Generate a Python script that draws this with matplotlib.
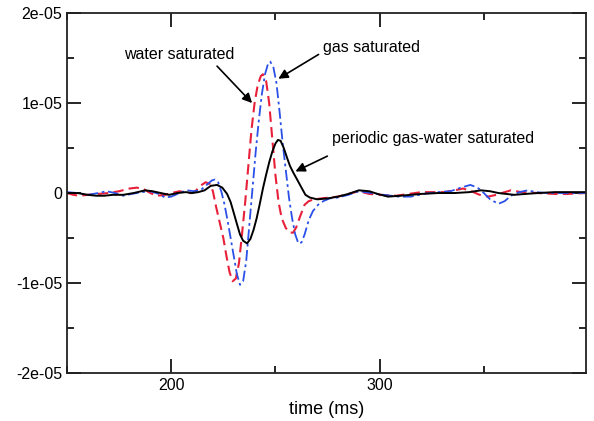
import numpy as np
import matplotlib
matplotlib.use("Agg")
import matplotlib.pyplot as plt
from matplotlib.ticker import FixedLocator, FixedFormatter, MultipleLocator

plt.rcParams['font.family'] = ['Liberation Sans', 'DejaVu Sans']

# water saturated (red dashed), values in 1e-6
t_water = [150, 153, 156, 160, 165, 170, 175, 180, 183.5, 187, 190, 193, 197, 200, 204, 208, 210,
           212, 214, 216.5, 218.5, 220, 221.5, 223, 225, 226.5, 228, 229.5, 231, 232.5, 234, 235.5,
           237, 238.5, 240, 241.5, 243, 244, 245.5, 247, 248.5, 250, 251.5, 253, 255, 257, 258.5,
           260, 262, 264, 266, 268.5, 272, 276, 280, 285, 290, 295, 300, 308, 314, 320, 331, 336,
           340, 344, 348, 352, 356, 360, 363, 368, 376, 384, 390, 399]
water = [0.0, -0.2, -0.3, -0.2, -0.1, 0.0, 0.2, 0.5, 0.6, 0.4, 0.0, -0.3, -0.2, 0.0, 0.2, 0.0, 0.0,
         0.3, 0.8, 1.2, 1.0, 0.2, -1.5, -3.0, -5.0, -7.0, -8.8, -9.8, -9.5, -7.8, -4.5, -1.0,
         3.0, 7.0, 10.0, 12.0, 13.0, 13.2, 12.5, 10.0, 6.0, 2.0, -1.0, -2.8, -3.9, -4.4, -4.4,
         -3.8, -2.5, -1.3, -0.9, -0.7, -0.6, -0.5, -0.4, -0.1, 0.2, -0.1, -0.2, -0.3, -0.1, 0.1, 0.1, 0.3,
         0.5, 0.2, -0.2, -0.4, -0.2, 0.1, 0.3, 0.1, 0.0, -0.1, -0.1, 0.0]

# gas saturated (blue dash-dot)
t_gas = [150, 155, 160, 165, 169, 173, 177, 181, 186, 190, 194, 197, 200, 204, 207.5, 211, 214,
         217, 219.5, 221, 222.5, 224, 225.5, 227, 228.5, 230, 231.5, 233, 234.5, 236, 237.5, 239,
         240.5, 242, 243.5, 245, 246.5, 247.5, 249, 250.5, 252, 253.5, 255, 256.5, 258, 259.5, 261,
         262.5, 264, 266, 268, 270.5, 273, 276, 280, 285, 290, 296, 302, 309, 315, 321, 328, 334,
         339, 343.5, 347, 350, 353, 357, 360, 363, 367, 371, 375, 380, 390, 399]
gas = [0.1, 0.0, -0.2, 0.0, 0.2, 0.0, -0.3, -0.1, 0.1, 0.2, -0.1, -0.5, -0.4, 0.0, 0.3, 0.2, 0.3,
       0.9, 1.4, 1.5, 1.2, 0.2, -1.2, -3.0, -5.0, -7.0, -9.0, -10.2, -9.8, -7.5, -3.5, 0.5,
       4.5, 8.0, 11.0, 13.2, 14.4, 14.6, 14.0, 12.2, 9.0, 5.5, 2.5, -0.5, -2.8, -4.6, -5.6,
       -5.5, -4.6, -3.0, -2.0, -1.3, -0.9, -0.6, -0.5, -0.2, 0.2, 0.0, -0.2, -0.4, -0.4, -0.1, 0.1, 0.2,
       0.6, 0.9, 0.6, 0.0, -0.7, -1.2, -0.9, -0.3, 0.1, 0.3, 0.1, 0.0, 0.0, 0.0]

# periodic gas-water saturated (black solid)
t_periodic = [150, 155, 160, 164, 168, 172, 177, 182, 187.5, 191, 195, 199, 203, 207, 210, 213, 216,
              219, 222, 224.5, 226.8, 228.5, 230, 231.6, 233, 234.5, 236.4, 238, 239.5, 241, 242.5,
              244, 245.5, 247, 248.5, 250, 251.2, 252.5, 254, 255.6, 257, 258.5, 260.4, 262.5, 264.4,
              266.5, 270, 275, 280, 285, 290, 295, 299, 304, 310, 320, 328, 336, 343, 348.6, 353, 357,
              364.5, 370, 376, 384, 392, 399]
periodic = [0.0, 0.0, -0.2, -0.3, -0.3, -0.2, -0.2, 0.0, 0.3, 0.2, 0.0, -0.2, 0.0, 0.1, 0.0, 0.1, 0.3,
            0.8, 0.9, 0.6, -0.1, -1.0, -2.2, -3.5, -4.6, -5.3, -5.6, -5.1, -4.1, -2.8, -1.2,
            0.5, 2.0, 3.4, 4.6, 5.5, 5.9, 5.8, 5.0, 3.9, 3.0, 2.3, 1.5, 0.6, -0.2,
            -0.5, -0.7, -0.6, -0.4, -0.1, 0.3, 0.2, -0.1, -0.4, -0.3, -0.1, 0.0, 0.0, 0.1, 0.3, 0.2, 0.0,
            -0.2, -0.1, 0.0, 0.1, 0.1, 0.1]

ytick_vals = [-2e-05, -1e-05, 0, 1e-05, 2e-05]
ytick_labels = ['-2e-05', '-1e-05', '0', '1e-05', '2e-05']
xtick_vals = [200, 300]

fig = plt.figure(figsize=(5.94, 4.21), dpi=100)
ax = fig.add_axes([0.1128, 0.114, 0.8737, 0.855])

ax.plot(t_water, np.array(water) * 1e-6, color='#e8203a', ls=(0, (5, 2.5)), lw=1.5)
ax.plot(t_gas, np.array(gas) * 1e-6, color='#2a50e8', ls=(0, (6, 2, 1.5, 2)), lw=1.3)
ax.plot(t_periodic, np.array(periodic) * 1e-6, color='black', lw=1.4)

ax.set_xlim(150, 399)
ax.set_ylim(-2e-05, 2e-05)

ax.xaxis.set_major_locator(FixedLocator(xtick_vals))
ax.xaxis.set_minor_locator(MultipleLocator(50))
ax.yaxis.set_major_locator(FixedLocator(ytick_vals))
ax.yaxis.set_major_formatter(FixedFormatter(ytick_labels))
ax.yaxis.set_minor_locator(MultipleLocator(0.5e-05))
ax.tick_params(which='both', direction='in', top=True, right=True, labelsize=11.5, width=1.2)
ax.tick_params(which='major', length=10)
ax.tick_params(which='minor', length=5)
for s in ax.spines.values():
    s.set_linewidth(1.3)
    s.set_color('#222222')
ax.set_xlabel('time (ms)', fontsize=13, labelpad=6)

ax.text(203.6, 15.4e-6, 'water saturated', fontsize=11.5, ha='center', va='center')
ax.text(296.2, 16.2e-6, 'gas saturated', fontsize=11.5, ha='center', va='center')
ax.text(325.5, 6.1e-6, 'periodic gas-water saturated', fontsize=11.5, ha='center', va='center')

arrow = dict(arrowstyle='-|>', color='black', lw=1.2, mutation_scale=14, shrinkA=0, shrinkB=0)
ax.annotate('', xy=(238.8, 10.0e-6), xytext=(222.0, 14.1e-6), arrowprops=arrow)
ax.annotate('', xy=(251.4, 12.7e-6), xytext=(270.7, 15.4e-6), arrowprops=arrow)
ax.annotate('', xy=(259.6, 2.4e-6), xytext=(274.9, 4.1e-6), arrowprops=arrow)

fig.savefig('out.png', dpi=100)
